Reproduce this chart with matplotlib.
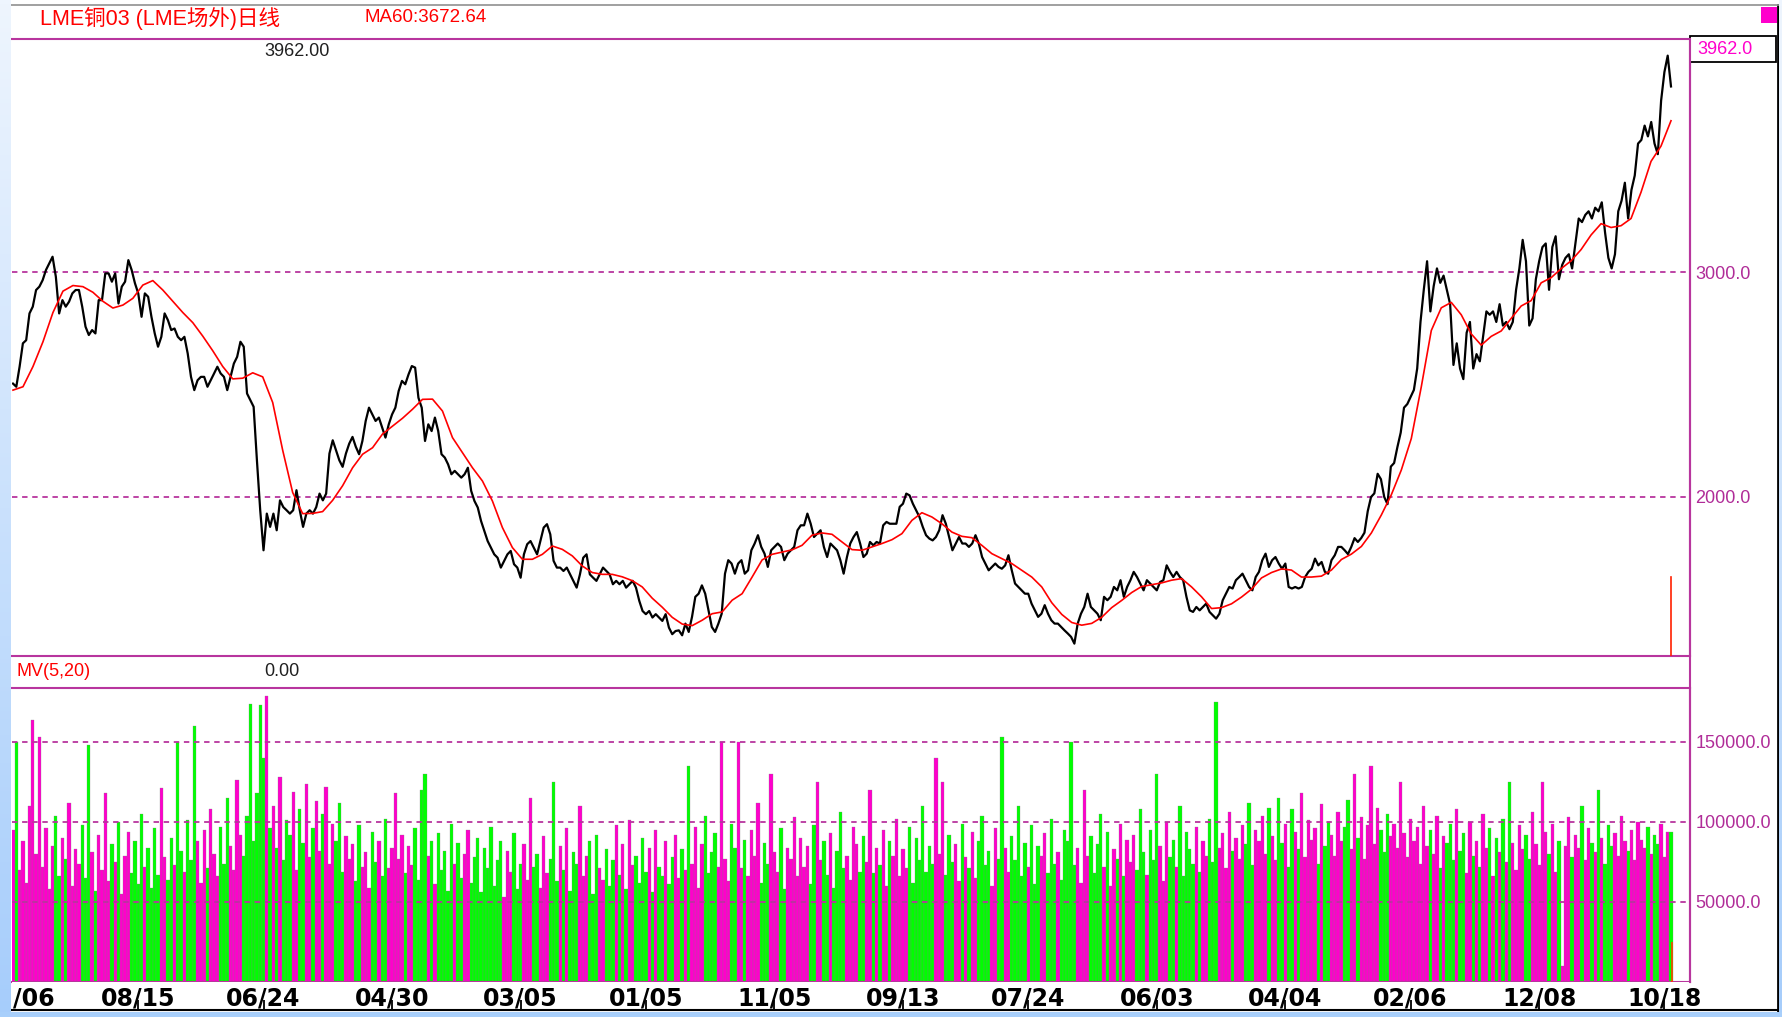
import numpy as np
import matplotlib.pyplot as plt
from matplotlib.lines import Line2D
from matplotlib.patches import Rectangle

# Weekly closes of LME copper 03 (oldest first)
price = [
    2504, 2490, 2579, 2683, 2697, 2816, 2846, 2920, 2935, 2964, 3009, 3039, 3068, 2979, 2816,
    2875, 2846, 2868, 2905, 2920, 2920, 2846, 2757, 2720, 2742, 2727, 2875, 2875, 2994, 2994,
    2957, 2994, 2860, 2935, 2957, 3053, 3009, 2950, 2905, 2801, 2905, 2890, 2801, 2727, 2668,
    2712, 2816, 2786, 2742, 2749, 2712, 2697, 2712, 2638, 2534, 2475, 2519, 2534, 2534, 2490,
    2519, 2549, 2579, 2549, 2534, 2475, 2534, 2593, 2623, 2690, 2668, 2460, 2430, 2401, 2163,
    1941, 1763, 1926, 1867, 1926, 1852, 1985, 1955, 1941, 1926, 1941, 2030, 1941, 1867, 1926,
    1941, 1926, 1955, 2015, 1985, 2015, 2193, 2252, 2208, 2163, 2134, 2193, 2237, 2267, 2223,
    # 1997 - 1999
    2190, 2249, 2338, 2397, 2367, 2338, 2353, 2308, 2264, 2323, 2367, 2397, 2471, 2516, 2501,
    2545, 2582, 2575, 2441, 2397, 2249, 2323, 2293, 2353, 2293, 2190, 2175, 2145, 2101, 2116,
    2101, 2086, 2101, 2130, 2027, 1982, 1953, 1893, 1849, 1804, 1775, 1745, 1730, 1686, 1716,
    1745, 1760, 1701, 1686, 1641, 1745, 1790, 1804, 1775, 1745, 1804, 1864, 1879, 1834, 1716,
    1686, 1686, 1671, 1686, 1656, 1627, 1597, 1656, 1730, 1745, 1656, 1641, 1627, 1656, 1686,
    1671, 1656, 1612, 1627, 1612, 1627, 1597, 1612, 1627, 1597, 1538, 1493, 1479, 1493, 1464,
    1479, 1464, 1449, 1479, 1419, 1390, 1404,
    # 1999 - 2002
    1407, 1385, 1437, 1400, 1467, 1556, 1570, 1607, 1570, 1496, 1422, 1400, 1437, 1481, 1659,
    1719, 1704, 1659, 1704, 1719, 1659, 1674, 1763, 1793, 1830, 1778, 1748, 1689, 1763, 1778,
    1793, 1778, 1719, 1748, 1763, 1778, 1852, 1874, 1874, 1926, 1881, 1822, 1837, 1852, 1778,
    1733, 1793, 1778, 1763, 1719, 1659, 1733, 1793, 1822, 1844, 1793, 1733, 1748, 1800, 1785,
    1800, 1793, 1874, 1889, 1881, 1881, 1881, 1956, 1970, 2015, 2007, 1970, 1941, 1911, 1867,
    1830, 1815, 1807, 1822, 1852, 1919, 1881, 1822, 1763, 1793, 1822, 1793, 1793, 1778, 1793,
    1830, 1793, 1733, 1704, 1674, 1689, 1704, 1689, 1681, 1696, 1741, 1674, 1615, 1600, 1585,
    1570, 1570, 1526, 1496,
    # 2002 - 2003
    1467, 1481, 1519, 1481, 1452, 1437, 1437, 1422, 1407, 1393, 1378, 1348, 1437, 1481, 1511,
    1570, 1511, 1496, 1481, 1452, 1556, 1541, 1556, 1600, 1585, 1630, 1556, 1600, 1630, 1667,
    1644, 1615, 1585, 1630, 1615, 1600, 1585, 1622, 1630, 1696, 1667, 1644, 1667, 1644, 1630,
    1556, 1496, 1489, 1511, 1496, 1511, 1526, 1489, 1474, 1459, 1481, 1541, 1570, 1600, 1593,
    1630, 1644, 1659, 1630, 1600, 1585, 1644, 1667, 1719, 1748, 1689, 1719, 1733, 1704, 1681,
    1704, 1600, 1593, 1600, 1593, 1600, 1644, 1667, 1681, 1726, 1696, 1711, 1667, 1659, 1719,
    1741, 1778,
    # 2003 - 2005
    1778, 1763, 1746, 1778, 1817, 1800, 1817, 1841, 1937, 2000, 2016, 2103, 2079, 2000, 1968,
    2135, 2151, 2222, 2286, 2397, 2413, 2444, 2476, 2571, 2778, 2921, 3048, 2825, 2937, 3016,
    2952, 2984, 2921, 2857, 2587, 2683, 2571, 2524, 2730, 2778, 2571, 2635, 2603, 2714, 2825,
    2810, 2825, 2778, 2857, 2762, 2778, 2746, 2778, 2921, 3016, 3143, 3048, 2762, 2794, 2968,
    3048, 3111, 3127, 2921, 3111, 3159, 2968, 3032, 3063, 3079, 3016, 3127, 3238, 3222, 3254,
    3270, 3238, 3286, 3270, 3310, 3175, 3063, 3016, 3079, 3270, 3317, 3397, 3238, 3365, 3429,
    3571, 3587, 3651, 3603, 3667, 3571, 3524, 3762, 3889, 3962, 3825,
]

# MA60 read at evenly spaced points along the same period
ma60 = [
    2475, 2490, 2580, 2690, 2820, 2915, 2940, 2935, 2910, 2870,
    2840, 2853, 2883, 2942, 2962, 2920, 2870, 2820, 2775, 2715,
    2650, 2580, 2525, 2528, 2552, 2534, 2420, 2208, 2020, 1926,
    1927, 1935, 1985, 2050, 2130, 2190, 2219, 2280, 2315, 2350,
    2390, 2434, 2435, 2382, 2264, 2197, 2130, 2071, 1982, 1864,
    1775, 1723, 1723, 1745, 1782, 1767, 1738, 1693, 1664, 1656,
    1656, 1645, 1628, 1600, 1550, 1510, 1465, 1435, 1428, 1452,
    1481, 1489, 1541, 1570, 1644, 1720, 1745, 1755, 1765, 1785,
    1830, 1840, 1834, 1800, 1766, 1763, 1778, 1793, 1810, 1837,
    1896, 1930, 1911, 1881, 1844, 1825, 1819, 1785, 1748, 1726,
    1704, 1674, 1644, 1600, 1530, 1478, 1442, 1430, 1438, 1465,
    1508, 1540, 1575, 1602, 1610, 1618, 1630, 1637, 1600, 1556,
    1504, 1508, 1525, 1555, 1590, 1640, 1664, 1680, 1675, 1644,
    1644, 1648, 1675, 1722, 1746, 1780, 1840, 1920, 2010, 2120,
    2260, 2490, 2740, 2841, 2865, 2810, 2725, 2675, 2714, 2738,
    2794, 2849, 2873, 2952, 2975, 3015, 3050, 3100, 3165, 3215,
    3198, 3206, 3238, 3355, 3492, 3560, 3672.64,
]

# volume in thousands, one bar per price sample
volume_k = [
    95, 150, 70, 88, 62, 110, 164, 80, 153, 72, 96, 58, 85, 104, 66, 90, 77, 112, 60, 83,
    74, 98, 65, 148, 81, 57, 92, 70, 118, 63, 86, 75, 100, 55, 79, 94, 68, 88, 61, 105,
    72, 84, 59, 96, 67, 121, 78, 64, 90, 73, 150, 82, 69, 101, 76, 160, 88, 62, 95, 71,
    108, 80, 66, 97, 74, 115, 85, 70, 126, 92, 79, 104, 174, 88, 118, 173, 140, 179, 96, 110,
    84, 128, 76, 101, 92, 119, 70, 108, 87, 124, 78, 96, 113, 82, 105, 122, 74, 99, 88, 112,
    69, 91, 77, 86, 63, 98, 72, 81, 59, 94, 75, 88, 66, 102, 71, 84, 118, 77, 92, 68,
    85, 73, 96, 64, 120, 130, 79, 88, 61, 93, 70, 82, 57, 99, 74, 87, 65, 80, 95, 62,
    78, 90, 56, 84, 71, 97, 60, 76, 88, 53, 82, 69, 93, 58, 74, 86, 64, 115, 72, 80,
    59, 91, 68, 77, 125, 63, 85, 70, 96, 57, 81, 74, 110, 66, 79, 88, 55, 92, 71, 64,
    83, 60, 76, 98, 67, 86, 58, 101, 73, 79, 62, 90, 69, 84, 56, 95, 72, 66, 88, 61,
    78, 92, 65, 83, 70, 135, 74, 97, 59, 86, 104, 68, 81, 93, 72, 150, 77, 63, 99, 84,
    150, 71, 89, 66, 95, 79, 112, 62, 87, 74, 130, 81, 69, 96, 58, 84, 77, 103, 66, 90,
    72, 85, 61, 98, 125, 76, 88, 67, 93, 59, 82, 106, 71, 79, 64, 97, 86, 69, 91, 75,
    120, 68, 84, 73, 95, 60, 88, 79, 102, 66, 83, 71, 97, 62, 90, 76, 110, 69, 85, 74,
    140, 80, 125, 67, 92, 75, 86, 63, 99, 78, 71, 94, 65, 88, 104, 73, 82, 60, 96, 77,
    153, 84, 69, 91, 76, 110, 66, 87, 72, 98, 61, 85, 79, 93, 68, 102, 74, 81, 64, 95,
    88, 150, 73, 84, 62, 120, 79, 91, 68, 86, 105, 72, 94, 60, 83, 77, 99, 66, 89, 75,
    92, 70, 108, 81, 67, 95, 76, 130, 85, 63, 100, 78, 89, 72, 110, 66, 94, 83, 74, 97,
    69, 88, 79, 102, 75, 175, 84, 93, 71, 106, 82, 90, 77, 98, 86, 112, 73, 95, 88, 104,
    80, 109, 91, 76, 115, 87, 99, 72, 108, 94, 83, 118, 78, 101, 89, 96, 74, 111, 85, 100,
    92, 79, 106, 88, 97, 114, 83, 130, 90, 103, 77, 98, 135, 86, 109, 95, 81, 105, 91, 99,
    84, 125, 93, 78, 102, 88, 97, 74, 110, 85, 95, 80, 104, 71, 91, 87, 99, 76, 108, 82,
    93, 68, 100, 79, 88, 72, 105, 84, 96, 66, 90, 81, 102, 75, 125, 87, 70, 98, 83, 92,
    77, 106, 86, 73, 125, 94, 80, 99, 69, 88, 10, 85, 103, 78, 92, 84, 110, 76, 96, 87,
    81, 120, 90, 74, 98, 85, 93, 79, 104, 88, 82, 95, 76, 100, 89, 84, 97, 80, 92, 86,
    99, 78, 94, 94,
]
last_bar_k = 25  # the partly drawn current-day bar

# first label is only partly on screen in the reference, so it shows as "/06"
tick_idx = [0, 38, 76, 115, 154, 192, 231, 270, 308, 347, 386, 424, 463, 501]
tick_labels = ["/06", "08/15", "06/24", "04/30", "03/05", "01/05", "11/05",
               "09/13", "07/24", "06/03", "04/04", "02/06", "12/08", "10/18"]

price_grid = [2000, 3000]
volume_grid = [50000, 100000, 150000]

W, H = 1782, 1017
FRAME = "#b8359e"
LABEL = "#b02c98"
PINK = "#ff00cc"
GREEN = "#00ff00"
CJK = ["Liberation Sans", "Noto Sans CJK SC", "DejaVu Sans"]


def rect(x0, y0, x1, y1):
    """Pixel box (top-left origin) -> figure fraction rect."""
    return [x0 / W, 1 - y1 / H, (x1 - x0) / W, (y1 - y0) / H]


def fx(x):
    return x / W


def fy(y):
    return 1 - y / H


fig = plt.figure(figsize=(W / 100, H / 100), dpi=100)
fig.patch.set_facecolor("white")

price = np.array(price, dtype=float)
volume = np.array(volume_k, dtype=float) * 1000
n = len(price)
idx = np.arange(n)
ma_x = np.linspace(0, n - 1, len(ma60))

# one sample is this many pixels wide on the screen
px = (1671 - 13) / (n - 1)
xlim = (-(13 - 12) / px, (1690 - 13) / px)

# ---- price panel
ax_p = fig.add_axes(rect(12, 39, 1690, 656))
ax_p.set_xlim(*xlim)
ax_p.set_ylim(1293, 4036)
for g in price_grid:
    ax_p.axhline(g, color=FRAME, lw=1.3, ls=(0, (3, 2.6)), zorder=1)
ax_p.plot(idx, price, color="black", lw=1.6, zorder=3)
ax_p.plot(ma_x, ma60, color="#ff0000", lw=1.2, zorder=4)
ax_p.axvline(n - 1, ymin=0, ymax=79 / 617, color="#ff2000", lw=1.2, zorder=5)

# ---- volume panel
ax_v = fig.add_axes(rect(12, 688, 1690, 982))
ax_v.set_xlim(*xlim)
ax_v.set_ylim(0, 183750)
up = np.r_[True, np.diff(price) >= 0]
colors = np.where(up, PINK, GREEN)
ax_v.bar(idx, volume, width=1.0, color=colors, edgecolor="#808080",
         linewidth=0.2, zorder=2)
ax_v.vlines(n - 1 + 0.25, 0, last_bar_k * 1000, color="#ff4000", lw=1.2, zorder=3)
for g in volume_grid:
    ax_v.axhline(g, color=FRAME, lw=1.3, ls=(0, (3, 2.6)), zorder=4)

for ax, grid in ((ax_p, price_grid), (ax_v, volume_grid)):
    ax.set_facecolor("white")
    ax.set_xticks([])
    ax.yaxis.tick_right()
    ax.set_yticks(grid)
    ax.set_yticklabels([f"{g:.1f}" for g in grid])
    ax.tick_params(axis="y", length=0, pad=4, labelcolor=LABEL, labelsize=13)
    for lab in ax.get_yticklabels():
        lab.set_family(["Liberation Sans", "DejaVu Sans"])
    ax.spines["left"].set_visible(False)
    for s in ("top", "bottom", "right"):
        ax.spines[s].set_color(FRAME)
        ax.spines[s].set_linewidth(1.5)

# ---- date axis
ax_x = fig.add_axes(rect(12, 982, 1690, 1010))
ax_x.set_xlim(*xlim)
ax_x.set_ylim(0, 1)
for s in ax_x.spines.values():
    s.set_visible(False)
ax_x.set_yticks([])
ax_x.set_xticks(tick_idx[1:])
ax_x.tick_params(axis="x", direction="in", length=7, width=1.3, color="black",
                 labelbottom=False)
for i, lab in zip(tick_idx, tick_labels):
    ha = "left" if lab.startswith("/") else "center"
    ax_x.text(i, 0.42, lab, ha=ha, va="center", fontsize=17,
              fontweight="bold", family=["Liberation Sans Narrow", "DejaVu Sans"],
              color="black")

# ---- texts
fig.text(fx(40), fy(18), "LME铜03 (LME场外)日线", color="#ff0000", fontsize=15.5,
         family=CJK, va="center", ha="left")
fig.text(fx(365), fy(18), "MA60:3672.64", color="#ff0000", fontsize=13.5,
         family=CJK, va="center", ha="left")
fig.text(fx(264), fy(51), "3962.00", color="#202020", fontsize=13,
         family=CJK, va="center", ha="left")
fig.text(fx(17), fy(672), "MV(5,20)", color="#ff0000", fontsize=13,
         family=CJK, va="center", ha="left")
fig.text(fx(264), fy(672), "0.00", color="#202020", fontsize=13,
         family=CJK, va="center", ha="left")


# ---- frame lines drawn in pixel space
def fig_line(x0, y0, x1, y1, color, lw):
    fig.add_artist(Line2D([fx(x0), fx(x1)], [fy(y0), fy(y1)], color=color, lw=lw,
                          transform=fig.transFigure))


fig_line(1690, 39, 1690, 982, FRAME, 1.5)
fig_line(11, 1010, 1779, 1010, "black", 1.5)
fig_line(1778, 5, 1778, 1012, "black", 2.0)
fig_line(11, 5, 1779, 5, "#909090", 1.2)

# current value box at the top right
fig.add_artist(Rectangle((fx(1690), fy(62)), fx(1776) - fx(1690), fy(36) - fy(62),
                         transform=fig.transFigure, facecolor="white",
                         edgecolor="black", lw=1.3))
fig.text(fx(1697), fy(49), "3962.0", color=PINK, fontsize=13,
         family=["Liberation Sans", "DejaVu Sans"], va="center", ha="left")
fig.add_artist(Rectangle((fx(1761), fy(23)), fx(1777) - fx(1761), fy(7) - fy(23),
                         transform=fig.transFigure, facecolor=PINK, lw=0))

# ---- window chrome: light blue strips
grad = np.linspace(0, 1, 256).reshape(-1, 1)
side_cmap = plt.matplotlib.colors.LinearSegmentedColormap.from_list(
    "side", ["#eef5fe", "#a6cdfb"])
ax_l = fig.add_axes(rect(0, 0, 11, 1017))
ax_l.imshow(grad, aspect="auto", cmap=side_cmap, extent=(0, 1, 1, 0))
ax_l.set_axis_off()
ax_l.set_zorder(10)

ax_b = fig.add_axes(rect(0, 1012, 1782, 1017))
ax_b.set_facecolor("#a8cffb")
ax_b.set_xticks([])
ax_b.set_yticks([])
for s in ax_b.spines.values():
    s.set_visible(False)
ax_b.set_zorder(10)

ax_t = fig.add_axes(rect(11, 0, 1782, 4))
ax_t.set_facecolor("#f0f6fe")
ax_t.set_axis_off()
ax_t.patch.set_visible(True)
ax_t.set_zorder(10)

ax_r = fig.add_axes(rect(1779, 0, 1782, 1012))
ax_r.imshow(grad, aspect="auto", cmap=side_cmap, extent=(0, 1, 1, 0))
ax_r.set_axis_off()
ax_r.set_zorder(10)

fig.savefig("out.png", dpi=100)
